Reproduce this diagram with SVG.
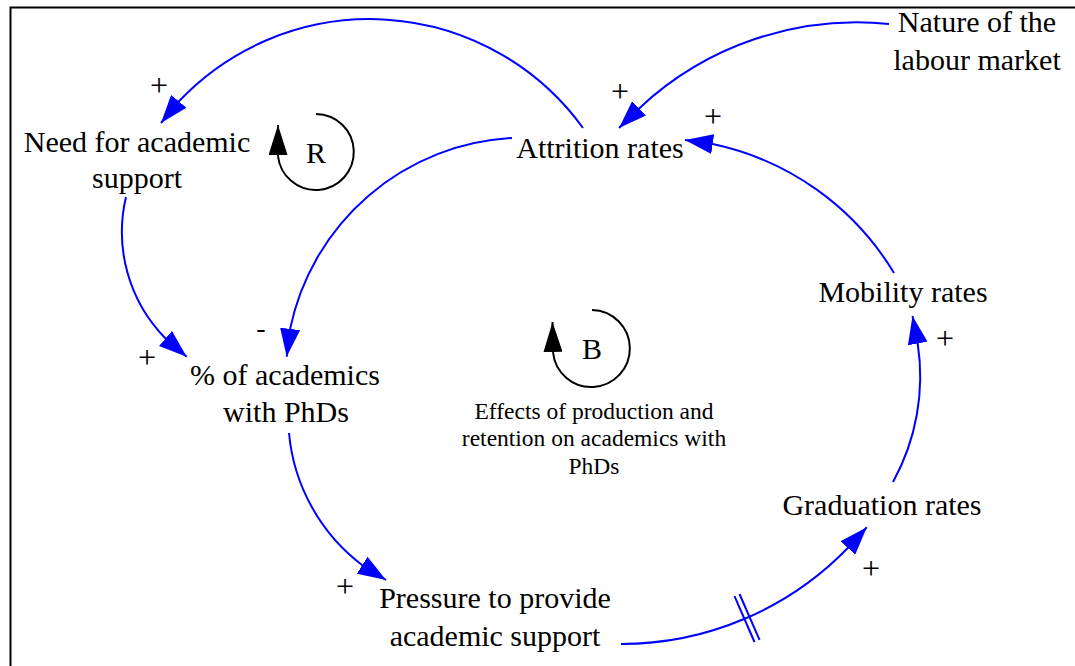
<svg xmlns="http://www.w3.org/2000/svg" width="1075" height="666" viewBox="0 0 1075 666">
  <style>
    .node { font-family: "Liberation Serif", "Times New Roman", serif; font-size: 30px; fill: #000; text-anchor: middle; }
    .note { font-family: "Liberation Serif", "Times New Roman", serif; font-size: 23.5px; fill: #000; text-anchor: middle; }
    .sign { font-family: "Liberation Serif", "Times New Roman", serif; font-size: 32px; fill: #000; text-anchor: middle; }
    .minus { font-size: 28px; }
    .link { fill: none; stroke: #0000ff; stroke-width: 2; marker-end: url(#arrow); }
    .delay { stroke: #0000ff; stroke-width: 2; }
    .loop { fill: none; stroke: #000; stroke-width: 2; marker-end: url(#loop-arrow); }
    .frame { fill: none; stroke: #000; stroke-width: 2; }
  </style>
  <defs>
    <marker id="arrow" markerUnits="userSpaceOnUse" markerWidth="28" markerHeight="20" refX="28" refY="10" orient="auto">
      <path d="M0,0 L28,10 L0,20 Z" fill="#0000ff"/>
    </marker>
    <marker id="loop-arrow" markerUnits="userSpaceOnUse" markerWidth="30" markerHeight="19" refX="30" refY="9.5" orient="auto">
      <path d="M0,0 L30,9.5 L0,19 Z" fill="#000"/>
    </marker>
  </defs>

  <rect width="1075" height="666" fill="#fff"/>
  <path class="frame" d="M10.5,666 V7.5 H1075"/>

  <!-- causal links -->
  <g id="connectors">
    <!-- Attrition rates -> Need for academic support -->
    <path class="link" d="M583,128 A263,263 0 0 0 178.7,101.5 L161,123"/>
    <!-- Nature of the labour market -> Attrition rates -->
    <path class="link" d="M889,24 A318,318 0 0 0 639.1,108.4 L619,128"/>
    <!-- Mobility rates -> Attrition rates -->
    <path class="link" d="M894,273 A279,279 0 0 0 712.7,144 L685,140"/>
    <!-- Attrition rates -> % of academics with PhDs -->
    <path class="link" d="M512,138 A240,240 0 0 0 290.1,328.9 L286.7,356.7"/>
    <!-- Need for academic support -> % of academics with PhDs -->
    <path class="link" d="M126,197 A152,152 0 0 0 165.5,338.5 L186.7,356.7"/>
    <!-- % of academics with PhDs -> Pressure to provide academic support -->
    <path class="link" d="M289,433 A187,187 0 0 0 362.3,565.2 L386,580"/>
    <!-- Pressure to provide academic support -> Graduation rates (delayed) -->
    <path class="link" d="M621,644 A316,316 0 0 0 847.8,548 L866.8,527.3"/>
    <line class="delay" x1="734.5" y1="596.2" x2="754.5" y2="642"/>
    <line class="delay" x1="739.5" y1="594" x2="759.5" y2="639.8"/>
    <!-- Graduation rates -> Mobility rates -->
    <path class="link" d="M893,482 A218,218 0 0 0 917.7,343.5 L912.5,316"/>

    <!-- link polarities -->
    <text class="sign" x="159" y="96">+</text>
    <text class="sign" x="620" y="102">+</text>
    <text class="sign" x="713" y="127">+</text>
    <text class="sign minus" x="261" y="337">-</text>
    <text class="sign" x="147" y="368">+</text>
    <text class="sign" x="345" y="597">+</text>
    <text class="sign" x="871" y="579">+</text>
    <text class="sign" x="945" y="349">+</text>
  </g>

  <g id="node-need">
    <text class="node" x="137" y="152">Need for academic</text>
    <text class="node" x="137" y="188">support</text>
  </g>
  <g id="node-attrition">
    <text class="node" x="600" y="158">Attrition rates</text>
  </g>
  <g id="node-labour-market">
    <text class="node" x="977" y="32">Nature of the</text>
    <text class="node" x="977" y="70">labour market</text>
  </g>
  <g id="node-phds">
    <text class="node" x="285" y="385">% of academics</text>
    <text class="node" x="286" y="422">with PhDs</text>
  </g>
  <g id="node-pressure">
    <text class="node" x="495" y="608">Pressure to provide</text>
    <text class="node" x="495" y="646">academic support</text>
  </g>
  <g id="node-graduation">
    <text class="node" x="882" y="515">Graduation rates</text>
  </g>
  <g id="node-mobility">
    <text class="node" x="903" y="302">Mobility rates</text>
  </g>

  <!-- reinforcing loop marker -->
  <g id="loop-r">
    <path class="loop" d="M316,114 A38,38 0 1 1 278,156 L278,125"/>
    <text class="node" x="316" y="163">R</text>
  </g>

  <!-- balancing loop marker and its caption -->
  <g id="loop-b">
    <path class="loop" d="M592,310 A38.5,38.5 0 1 1 553,352 L552.5,322"/>
    <text class="node" x="592" y="359">B</text>
    <text class="note" x="594" y="419">Effects of production and</text>
    <text class="note" x="594" y="446">retention on academics with</text>
    <text class="note" x="594" y="474">PhDs</text>
  </g>
</svg>
